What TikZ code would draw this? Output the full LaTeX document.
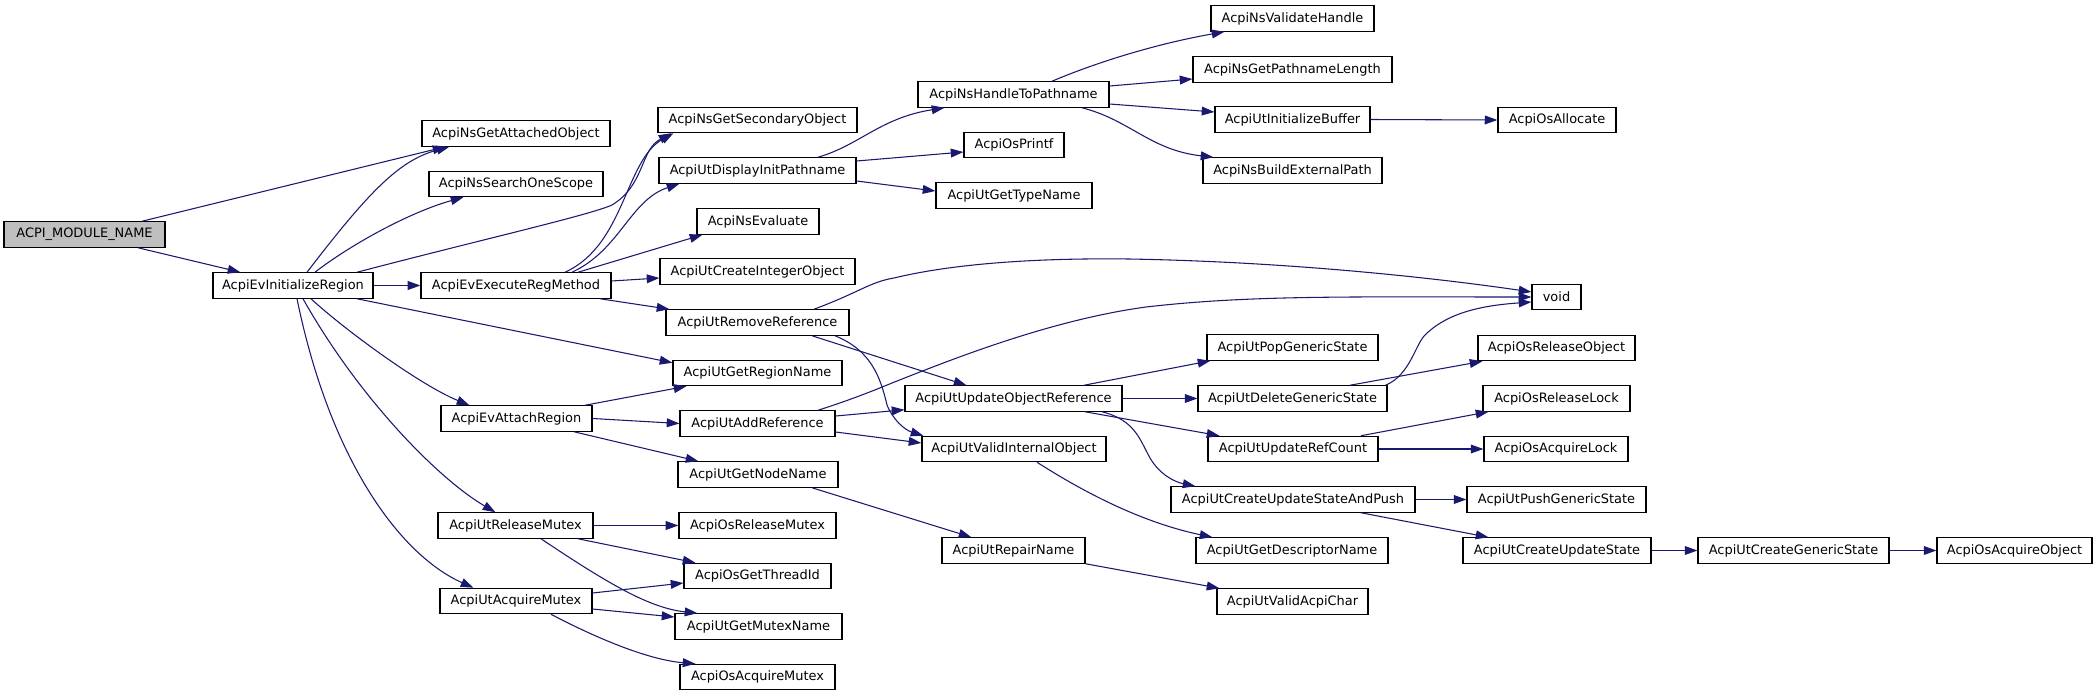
\documentclass[tikz,border=0pt]{standalone}
\usepackage{fontspec}
\setmainfont{DejaVu Sans}
\usetikzlibrary{arrows.meta}
\definecolor{edgeblue}{HTML}{191970}
\definecolor{rootgray}{HTML}{BFBFBF}
\tikzset{
  box/.style={draw=black, line width=0.9pt, fill=white, rectangle, inner xsep=0pt, inner ysep=0pt,
    minimum height=19pt, font=\fontsize{9.7}{11}\selectfont, anchor=center},
  call/.style={draw=edgeblue, line width=0.8pt, -{Triangle[length=9.5pt,width=6.6pt]}},
}
\newcommand\bx[5]{\node[box, minimum width=#4*0.75pt] (#1) at (#2,#3) {#5};}
\begin{document}
\begin{tikzpicture}[x=0.75pt,y=-0.75pt]
\useasboundingbox (0,0) rectangle (2097,696);
% nodes
\node[box, fill=rootgray, minimum width=161*0.75pt] (mod) at (84.5,234.5) {ACPI\_MODULE\_NAME};
\bx{init}{293}{285.5}{160}{AcpiEvInitializeRegion}
\bx{att}{516}{133.5}{188}{AcpiNsGetAttachedObject}
\bx{search}{516}{184}{174}{AcpiNsSearchOneScope}
\bx{exec}{516}{285.5}{190}{AcpiEvExecuteRegMethod}
\bx{attach}{516.5}{418.5}{151}{AcpiEvAttachRegion}
\bx{urm}{515.5}{525.5}{155}{AcpiUtReleaseMutex}
\bx{uam}{516}{601}{152}{AcpiUtAcquireMutex}
\bx{sec}{757.5}{120}{199}{AcpiNsGetSecondaryObject}
\bx{disp}{757.5}{170.5}{197}{AcpiUtDisplayInitPathname}
\bx{eval}{758}{221.5}{122}{AcpiNsEvaluate}
\bx{cint}{757.5}{271.5}{195}{AcpiUtCreateIntegerObject}
\bx{rem}{757.5}{322.5}{183}{AcpiUtRemoveReference}
\bx{regn}{757.5}{373}{169}{AcpiUtGetRegionName}
\bx{addr}{757.5}{423.5}{155}{AcpiUtAddReference}
\bx{node}{758}{474.5}{160}{AcpiUtGetNodeName}
\bx{orm}{757.5}{525.5}{157}{AcpiOsReleaseMutex}
\bx{tid}{757.5}{576}{147}{AcpiOsGetThreadId}
\bx{mname}{758.5}{626.5}{167}{AcpiUtGetMutexName}
\bx{oam}{757.5}{677}{155}{AcpiOsAcquireMutex}
\bx{h2p}{1013.5}{94.5}{191}{AcpiNsHandleToPathname}
\bx{printf}{1014}{145}{100}{AcpiOsPrintf}
\bx{tname}{1014}{195.5}{156}{AcpiUtGetTypeName}
\bx{uor}{1013.5}{398.5}{217}{AcpiUtUpdateObjectReference}
\bx{vio}{1014}{449}{184}{AcpiUtValidInternalObject}
\bx{repair}{1013.5}{550.5}{143}{AcpiUtRepairName}
\bx{valh}{1292.5}{18.5}{163}{AcpiNsValidateHandle}
\bx{plen}{1292.5}{69.5}{199}{AcpiNsGetPathnameLength}
\bx{ibuf}{1292.5}{119.5}{155}{AcpiUtInitializeBuffer}
\bx{bext}{1292.5}{170.5}{179}{AcpiNsBuildExternalPath}
\bx{pop}{1292.5}{347.5}{171}{AcpiUtPopGenericState}
\bx{dgs}{1292.5}{398.5}{189}{AcpiUtDeleteGenericState}
\bx{urc}{1293}{449}{170}{AcpiUtUpdateRefCount}
\bx{cusp}{1293}{499.5}{244}{AcpiUtCreateUpdateStateAndPush}
\bx{gdn}{1292}{550.5}{192}{AcpiUtGetDescriptorName}
\bx{vac}{1292.5}{601.5}{151}{AcpiUtValidAcpiChar}
\bx{alloc}{1557}{120}{118}{AcpiOsAllocate}
\bx{void}{1556.5}{297}{49}{void}
\bx{ros}{1556.5}{348}{157}{AcpiOsReleaseObject}
\bx{rlock}{1556.5}{398.5}{147}{AcpiOsReleaseLock}
\bx{alock}{1556}{449}{144}{AcpiOsAcquireLock}
\bx{push}{1556.5}{499.5}{179}{AcpiUtPushGenericState}
\bx{cus}{1557}{550.5}{188}{AcpiUtCreateUpdateState}
\bx{cgs}{1793.5}{550.5}{191}{AcpiUtCreateGenericState}
\bx{oao}{2014.5}{550.5}{155}{AcpiOsAcquireObject}
% edges
\draw[call] ([shift={(57.5,0)}]mod.north) -- ([shift={(24,0)}]att.south west);
\draw[call] ([shift={(53.5,0)}]mod.south) -- ([shift={(28,0)}]init.north west);
\draw[call] ([shift={(14,0)}]init.north) .. controls (370,190) and (400,160) .. ([shift={(28,0)}]att.south west);
\draw[call] ([shift={(22,0)}]init.north) .. controls (350,245) and (410,212) .. ([shift={(35,0)}]search.south west);
\draw[call] ([shift={(64,0)}]init.north) .. controls (480,240) and (590,215) .. (612,205) .. controls (645,185) and (640,150) .. ([shift={(14,0)}]sec.south west);
\draw[call] (init.east) -- (exec.west);
\draw[call] ([shift={(64,0)}]init.south) -- ([shift={(0,3)}]regn.north west);
\draw[call] ([shift={(18,0)}]init.south) .. controls (345,330) and (420,385) .. ([shift={(29,0)}]attach.north west);
\draw[call] ([shift={(10,0)}]init.south) .. controls (360,400) and (440,480) .. ([shift={(58,0)}]urm.north west);
\draw[call] ([shift={(4,0)}]init.south) .. controls (330,460) and (400,555) .. ([shift={(34,0)}]uam.north west);
\draw[call] ([shift={(49,0)}]exec.north) .. controls (625,245) and (625,160) .. ([shift={(16,0)}]sec.south west);
\draw[call] ([shift={(56,0)}]exec.north) .. controls (620,250) and (630,200) .. ([shift={(21,0)}]disp.south west);
\draw[call] ([shift={(62,0)}]exec.north) -- ([shift={(6,0)}]eval.south west);
\draw[call] ([shift={(0,-4.5)}]exec.east) -- ([shift={(0,6.5)}]cint.west);
\draw[call] ([shift={(84,0)}]exec.south) -- ([shift={(4,0)}]rem.north west);
\draw[call] ([shift={(60.5,0)}]disp.north) .. controls (860,145) and (880,118) .. ([shift={(27,0)}]h2p.south west);
\draw[call] ([shift={(0,-9.5)}]disp.east) -- ([shift={(0,7)}]printf.west);
\draw[call] ([shift={(0,10.5)}]disp.east) -- ([shift={(0,-4.5)}]tname.west);
\draw[call] ([shift={(38.5,0)}]h2p.north) .. controls (1090,65) and (1150,45) .. ([shift={(14,0)}]valh.south west);
\draw[call] ([shift={(0,-8.5)}]h2p.east) -- ([shift={(0,9.5)}]plen.west);
\draw[call] ([shift={(0,9.5)}]h2p.east) -- ([shift={(0,-7.5)}]ibuf.west);
\draw[call] ([shift={(68.5,0)}]h2p.south) .. controls (1130,120) and (1150,150) .. ([shift={(11,0)}]bext.north west);
\draw[call] (ibuf.east) -- (alloc.west);
\draw[call] ([shift={(56.5,0)}]rem.north) .. controls (860,292) and (870,282) .. (894,278) .. controls (960,262) and (1050,258) .. (1129,259) .. controls (1300,262) and (1450,280) .. ([shift={(0,-5)}]void.west);
\draw[call] ([shift={(54.5,0)}]rem.south) -- ([shift={(62,0)}]uor.north west);
\draw[call] ([shift={(77.5,0)}]rem.south) .. controls (870,350) and (880,375) .. (887,405) .. controls (893,420) and (905,430) .. ([shift={(2,0)}]vio.north west);
\draw[call] ([shift={(60.5,0)}]addr.north) .. controls (850,400) and (870,392) .. (892,383) .. controls (950,360) and (1050,320) .. (1146,307) .. controls (1250,295) and (1350,297) .. (void.west);
\draw[call] ([shift={(0,-7.5)}]addr.east) -- ([shift={(0,-2)}]uor.south west);
\draw[call] ([shift={(0,8.5)}]addr.east) -- ([shift={(0,-6)}]vio.west);
\draw[call] ([shift={(70.5,0)}]uor.north) -- ([shift={(4,0)}]pop.south west);
\draw[call] (uor.east) -- (dgs.west);
\draw[call] ([shift={(71.5,0)}]uor.south) -- ([shift={(12,0)}]urc.north west);
\draw[call] ([shift={(88.5,0)}]uor.south) .. controls (1135,420) and (1140,440) .. (1150,458) .. controls (1160,475) and (1175,482) .. ([shift={(25,0)}]cusp.north west);
\draw[call] ([shift={(-2,0)}]dgs.north east) .. controls (1410,375) and (1415,345) .. (1425,335) .. controls (1450,310) and (1490,305) .. ([shift={(0,5)}]void.west);
\draw[call] ([shift={(57.5,0)}]dgs.north) -- ([shift={(5,0)}]ros.south west);
\draw[call] ([shift={(68,0)}]urc.north) -- ([shift={(6,0)}]rlock.south west);
\draw[call] (urc.east) -- (alock.west);
\draw[call] (cusp.east) -- (push.west);
\draw[call] ([shift={(68,0)}]cusp.south) -- ([shift={(26,0)}]cus.north west);
\draw[call] (cus.east) -- (cgs.west);
\draw[call] (cgs.east) -- (oao.west);
\draw[call] ([shift={(23,0)}]vio.south) .. controls (1065,480) and (1130,520) .. ([shift={(17,0)}]gdn.north west);
\draw[call] ([shift={(54,0)}]node.south) -- ([shift={(30,0)}]repair.north west);
\draw[call] (repair.south east) -- ([shift={(3,0)}]vac.north west);
\draw[call] ([shift={(68.5,0)}]attach.north) -- ([shift={(14,0)}]regn.south west);
\draw[call] (attach.east) -- (addr.west);
\draw[call] ([shift={(57.5,0)}]attach.south) -- ([shift={(21,0)}]node.north west);
\draw[call] (urm.east) -- (orm.west);
\draw[call] ([shift={(62.5,0)}]urm.south) -- ([shift={(12,0)}]tid.north west);
\draw[call] ([shift={(25.5,0)}]urm.south) .. controls (610,585) and (650,608) .. ([shift={(23,0)}]mname.north west);
\draw[call] ([shift={(0,-8)}]uam.east) -- ([shift={(0,7)}]tid.west);
\draw[call] ([shift={(0,8)}]uam.east) -- ([shift={(0,-9.5)}]mname.west);
\draw[call] ([shift={(35,0)}]uam.south) .. controls (600,640) and (650,660) .. ([shift={(16,0)}]oam.north west);
\end{tikzpicture}
\end{document}
